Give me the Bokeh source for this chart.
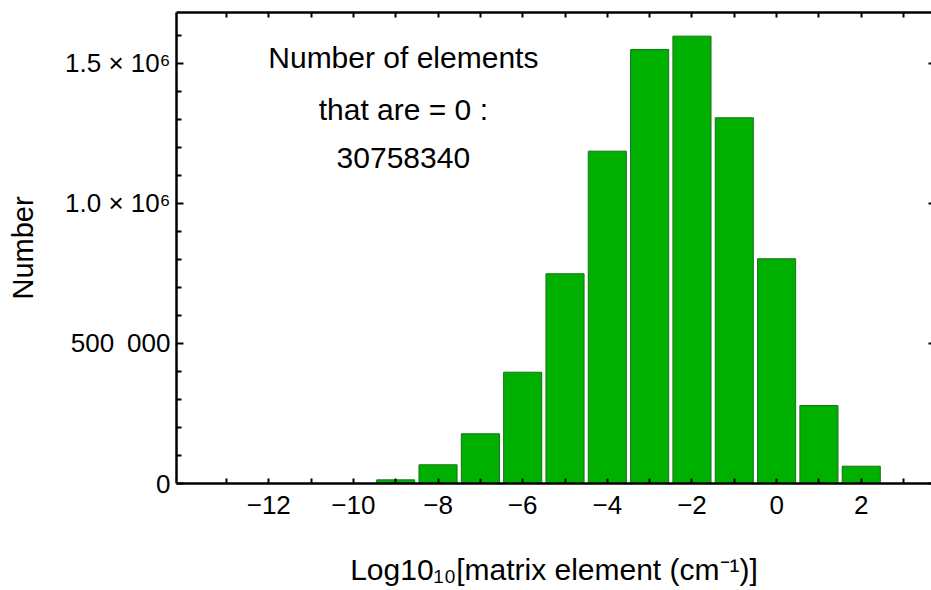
from bokeh.plotting import figure
from bokeh.models import Range1d, FixedTicker, LinearAxis, Label, CustomLabelingPolicy
from bokeh.embed import file_html
from bokeh.resources import INLINE

# ---- data ----
bin_centers = [-9, -8, -7, -6, -5, -4, -3, -2, -1, 0, 1, 2]
counts = [13000, 66800, 177500, 397500, 749000, 1186800, 1550000, 1597500,
          1306000, 802500, 278600, 61800]

x_major = [-12, -10, -8, -6, -4, -2, 0, 2]
x_minor = [-13, -11, -9, -7, -5, -3, -1, 1, 3]
x_labels = {-12: "−12", -10: "−10", -8: "−8", -6: "−6",
            -4: "−4", -2: "−2", 0: "0", 2: "2"}
y_major = [0, 500000, 1000000, 1500000]
y_minor = [100000, 200000, 300000, 400000, 600000, 700000, 800000, 900000,
           1100000, 1200000, 1300000, 1400000, 1600000]
y_labels = {0: "0", 500000: "500\u2002000", 1000000: "1.0 × 10⁶", 1500000: "1.5 × 10⁶"}

note_lines = ["Number of elements", "that are = 0 :", "30758340"]
note_x = -8.82
note_y = [1521000, 1336000, 1162000]

x_title = "Log10₁₀[matrix element (cm⁻¹)]"
y_title = "Number"

FONT = "Liberation Sans"

p = figure(width=931, height=590, output_backend="svg", toolbar_location=None,
           x_range=Range1d(-14.18, 3.66), y_range=Range1d(0, 1682000),
           min_border_left=176, min_border_top=12, min_border_bottom=107,
           min_border_right=0)
p.outline_line_color = None
p.grid.visible = False
p.background_fill_color = "white"
p.border_fill_color = "white"

p.vbar(x=bin_centers, top=counts, bottom=0, width=0.9,
       fill_color="#00B000", line_color="#17701a", line_width=1)

xt = FixedTicker(ticks=x_major, minor_ticks=x_minor)
yt = FixedTicker(ticks=y_major, minor_ticks=y_minor)

hide_all = CustomLabelingPolicy(code="""
const all = [...indices];
for (const i of all) indices.unset(i);
return indices;
""")


def style(ax, tick_in, minor_in, labels=True):
    ax.axis_line_color = "black"
    ax.axis_line_width = 2.5
    ax.major_tick_line_color = "black"
    ax.minor_tick_line_color = "black"
    ax.major_tick_line_width = 2
    ax.minor_tick_line_width = 2
    ax.major_tick_in = tick_in
    ax.major_tick_out = 0
    ax.minor_tick_in = minor_in
    ax.minor_tick_out = 0
    if not labels:
        ax.major_label_policy = hide_all
        ax.major_label_standoff = 0
        ax.major_label_text_font_size = "0px"


xa = p.xaxis[0]
xa.ticker = xt
xa.major_label_overrides = x_labels
style(xa, 5, 5)
xa.major_label_text_font = FONT
xa.major_label_text_font_size = "26px"
xa.major_label_text_color = "black"
xa.major_label_standoff = 12
xa.axis_label = x_title
xa.axis_label_text_font = FONT
xa.axis_label_text_font_size = "30px"
xa.axis_label_text_font_style = "normal"
xa.axis_label_text_color = "black"
xa.axis_label_standoff = 36

ya = p.yaxis[0]
ya.ticker = yt
ya.major_label_overrides = y_labels
style(ya, 7, 5)
ya.major_label_text_font = FONT
ya.major_label_text_font_size = "26px"
ya.major_label_text_color = "black"
ya.major_label_standoff = 6
ya.axis_label = y_title
ya.axis_label_text_font = FONT
ya.axis_label_text_font_size = "29px"
ya.axis_label_text_font_style = "normal"
ya.axis_label_text_color = "black"
ya.axis_label_standoff = 23

top = LinearAxis(ticker=FixedTicker(ticks=x_major, minor_ticks=x_minor))
style(top, 5, 5, labels=False)
p.add_layout(top, "above")

right = LinearAxis(ticker=FixedTicker(ticks=y_major, minor_ticks=[]))
style(right, 3, 0, labels=False)
right.axis_line_color = None
p.add_layout(right, "right")

for txt, yy in zip(note_lines, note_y):
    p.add_layout(Label(x=note_x, y=yy, text=txt, text_align="center",
                       text_baseline="alphabetic", text_font=FONT,
                       text_font_size="30px", text_color="black"))

open("out.html", "w").write(file_html(p, INLINE))
